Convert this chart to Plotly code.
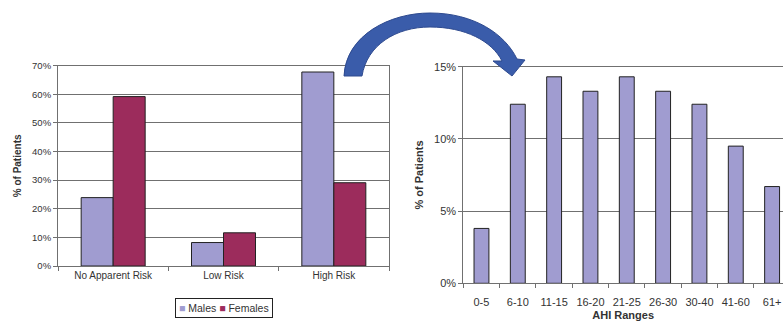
import plotly.graph_objects as go

W, H = 783, 325

# ---- data ----
risk_categories = ["No Apparent Risk", "Low Risk", "High Risk"]
males_pct = [23.9, 8.2, 67.8]
females_pct = [59.2, 11.6, 29.1]

ahi_ranges = ["0-5", "6-10", "11-15", "16-20", "21-25", "26-30", "30-40", "41-60", "61+"]
ahi_pct = [3.8, 12.4, 14.3, 13.3, 14.3, 13.3, 12.4, 9.5, 6.7]

# ---- styles ----
MALE = "#A09CD0"
FEMALE = "#9C2C5C"
GRID = "#707070"
TXT = "#333333"
FONT = "Liberation Sans, Arial, sans-serif"


def px(x, y):
    return x / W, 1 - y / H


fig = go.Figure()
fig.add_trace(go.Bar(x=risk_categories, y=males_pct, name="Males", marker_color=MALE,
                     marker_line=dict(color="#222222", width=1), xaxis="x", yaxis="y",
                     showlegend=False))
fig.add_trace(go.Bar(x=risk_categories, y=females_pct, name="Females", marker_color=FEMALE,
                     marker_line=dict(color="#222222", width=1), xaxis="x", yaxis="y",
                     showlegend=False))
fig.add_trace(go.Bar(x=ahi_ranges, y=ahi_pct, name="AHI", marker_color=MALE, width=0.41,
                     marker_line=dict(color="#222222", width=1), xaxis="x2", yaxis="y2",
                     showlegend=False))

axis_common = dict(showline=True, linecolor=GRID, linewidth=1, ticks="outside",
                   ticklen=4, tickcolor=GRID, automargin=False, zeroline=False)

fig.update_layout(
    width=W, height=H,
    margin=dict(l=0, r=0, t=0, b=0),
    paper_bgcolor="white", plot_bgcolor="white",
    font=dict(family=FONT, color=TXT, size=10),
    barmode="group", bargap=0.42, bargroupgap=0,
    showlegend=False,
    xaxis=dict(domain=[58 / W, 389 / W], tickson="boundaries", showgrid=False,
               mirror=True, tickfont=dict(size=10), tickangle=0, **axis_common),
    yaxis=dict(domain=[1 - 266 / H, 1 - 65.7 / H], range=[0, 70], dtick=10, ticksuffix="%",
               showgrid=True, gridcolor=GRID, gridwidth=1, mirror=True,
               tickfont=dict(size=9.5),
               title=dict(text="<b>% of Patients</b>", font=dict(size=10), standoff=8),
               **axis_common),
    xaxis2=dict(domain=[463.3 / W, 1.0], range=[-0.5, 8.3], tickson="boundaries",
                showgrid=False, mirror=True, tickfont=dict(size=11), tickangle=0,
                ticklabelstandoff=8,
                title=dict(text="<b>AHI Ranges</b>", font=dict(size=11), standoff=4),
                anchor="y2", **axis_common),
    yaxis2=dict(domain=[1 - 283.3 / H, 1 - 66.7 / H], range=[0, 15], dtick=5, ticksuffix="%",
                showgrid=True, gridcolor=GRID, gridwidth=1, mirror=True,
                tickfont=dict(size=11), anchor="x2",
                title=dict(text="<b>% of Patients</b>", font=dict(size=11), standoff=8),
                **axis_common),
)

# compact legend box for the left chart
fig.add_annotation(
    xref="paper", yref="paper", x=223.5 / W, y=1 - 307.5 / H, xanchor="center", yanchor="middle",
    text=f"<span style='color:{MALE}'>■</span> Males <span style='color:{FEMALE}'>■</span> Females",
    showarrow=False, font=dict(size=10.5, color=TXT, family=FONT),
    bordercolor="#222222", borderwidth=1, borderpad=3, bgcolor="white",
)

# curved blue arrow linking the two charts (decoration)
pts = [
    ("M", [(344, 76)]),
    ("C", [(346, 35), (390, 13), (430, 13)]),
    ("C", [(474, 13), (505, 34), (517, 59)]),
    ("L", [(525, 60)]),
    ("L", [(512, 76)]),
    ("L", [(493, 61)]),
    ("L", [(502, 61)]),
    ("C", [(492, 41), (465, 27), (430, 27)]),
    ("C", [(396, 27), (367, 45), (362, 76)]),
]
path = ""
for cmd, coords in pts:
    path += cmd + " " + " ".join(f"{px(x, y)[0]:.5f},{px(x, y)[1]:.5f}" for x, y in coords) + " "
path += "Z"
fig.add_shape(type="path", path=path, xref="paper", yref="paper",
              fillcolor="#3A5CAA", line=dict(color="#2E4A8F", width=1), layer="above")

fig.write_html("out.html")
